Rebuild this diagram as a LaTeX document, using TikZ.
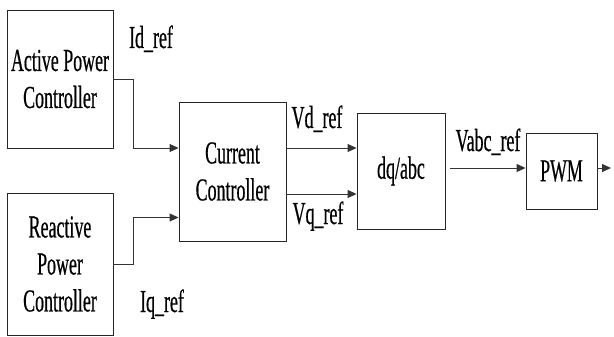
\documentclass[tikz,border=0pt]{standalone}
\usepackage{fontspec}
\setmainfont{Liberation Serif}[FakeStretch=0.56,FakeBold=0.5]
\usetikzlibrary{arrows.meta}
\begin{document}
\begin{tikzpicture}[x=1pt,y=-1pt,
  block/.style={draw=black!85,line width=0.9pt,align=center,inner sep=0pt,
    font=\fontsize{32}{37}\selectfont},
  conn/.style={draw=black!80,line width=0.9pt,-{Triangle[length=9pt,width=8pt]}},
  lbl/.style={font=\fontsize{32}{37}\selectfont,inner sep=0pt,anchor=base}]
\useasboundingbox (0,0) rectangle (614,337);
% blocks
\node[block,minimum width=106pt,minimum height=138pt] (active) at (60,79) {Active Power\\Controller};
\node[block,minimum width=106pt,minimum height=142pt] (reactive) at (60,264) {Reactive\\Power\\Controller};
\node[block,minimum width=107pt,minimum height=139pt] (current) at (232.5,171.5) {Current\\Controller};
\node[block,minimum width=88pt,minimum height=116pt] (dqabc) at (401,171) {dq/abc};
\node[block,minimum width=71pt,minimum height=76pt] (pwm) at (561.5,171) {PWM};
% connection points
\coordinate (idin) at ([yshift=23.5pt]current.west);
\coordinate (iqin) at ([yshift=-46pt]current.west);
\coordinate (vdout) at ([yshift=23.5pt]current.east);
\coordinate (vqout) at ([yshift=-22.5pt]current.east);
\coordinate (vabcout) at ([yshift=3pt]dqabc.east);
\coordinate (pwmout) at ([yshift=3pt]pwm.east);
\coordinate (gate) at (611,168);
% connectors
\draw[conn] (active.east) -| (133,148) -- (idin);
\draw[conn] (reactive.east) -| (133,217.5) -- (iqin);
\draw[conn] (vdout) -- (vdout -| dqabc.west);
\draw[conn] (vqout) -- (vqout -| dqabc.west);
\draw[conn] ([xshift=5pt]vabcout) -- (vabcout -| pwm.west);
\draw[conn] (pwmout) -- (gate);
% signal labels
\node[lbl] (id) at (151,48) {Id\_ref};
\node[lbl] (iq) at (162,312) {Iq\_ref};
\node[lbl] (vd) at (317,128) {Vd\_ref};
\node[lbl] (vq) at (318,224) {Vq\_ref};
\node[lbl] (vabc) at (488,151) {Vabc\_ref};
\end{tikzpicture}
\end{document}
